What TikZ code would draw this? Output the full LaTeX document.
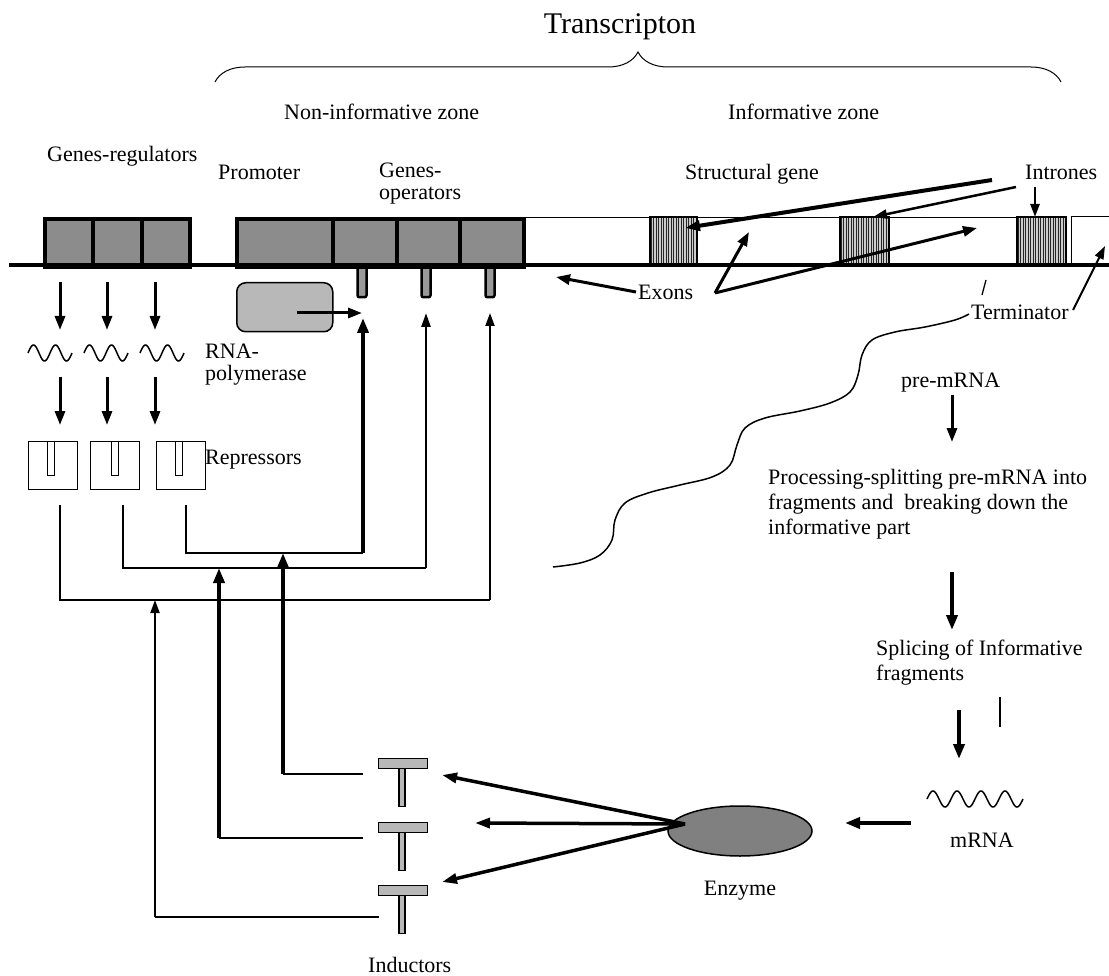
\documentclass[tikz,border=0pt]{standalone}
\usepackage{fontspec}
\setmainfont{Liberation Serif}
\usetikzlibrary{arrows.meta,decorations.pathreplacing,shapes.geometric}
\begin{document}
\begin{tikzpicture}[x=1pt,y=-1pt,
  lbl/.style={font=\fontsize{22}{26}\selectfont, inner sep=0pt, anchor=base west},
  genebox/.style={draw, line width=4pt, fill=black!45, inner sep=0pt, anchor=north west, minimum height=48pt},
  infobox/.style={draw, line width=1.2pt, fill=white, inner sep=0pt, anchor=north west, minimum height=48pt},
  peg/.style={draw, line width=2.5pt, fill=black!40, rounded corners=2pt, inner sep=0pt, anchor=north, minimum width=9pt, minimum height=34pt},
  repbox/.style={draw, line width=1.2pt, fill=white, inner sep=0pt, anchor=north west, minimum width=49pt, minimum height=48pt},
  slotbox/.style={draw, line width=1pt, fill=white, inner sep=0pt, anchor=north, minimum width=7pt, minimum height=34pt},
  tbar/.style={draw, line width=1.2pt, fill=black!28, inner sep=0pt, anchor=north west, minimum width=49pt, minimum height=10pt},
  tstem/.style={draw, line width=1.2pt, fill=black!28, inner sep=0pt, anchor=north, minimum width=6pt, minimum height=38pt},
  wire/.style={line width=1.5pt},
  arrA/.style={line width=3pt, -{Triangle[length=14pt,width=10pt]}},
  arrB/.style={line width=4pt, -{Triangle[length=15pt,width=11pt]}},
  arrC/.style={line width=2pt, -{Triangle[length=13pt,width=9pt]}},
  wave/.style={line width=1.5pt}
]
\useasboundingbox (0,0) rectangle (1109,976);

% ---------- title and brace
\node[lbl, font=\fontsize{30}{34}\selectfont, anchor=base] (title) at (620,34) {Transcripton};
\draw[decorate, decoration={brace, amplitude=30pt, aspect=0.5}, line width=1pt] (215,82) -- (1061,82);
\node[lbl] (nz) at (284,120) {Non-informative zone};
\node[lbl] (iz) at (728,120) {Informative zone};

% ---------- labels above the DNA
\node[lbl] (gr) at (47,162) {Genes-regulators};
\node[lbl] (pr) at (218,180) {Promoter};
\node[lbl] (go1) at (379,178) {Genes-};
\node[lbl] (go2) at (379,200) {operators};
\node[lbl] (sg) at (685,180) {Structural gene};
\node[lbl] (intr) at (1025,180) {Intrones};

% ---------- informative zone
\node[infobox, minimum width=544pt] (info) at (522,217) {};
\foreach \xa/\w/\nm in {650/47/in1, 840/49/in2, 1017/49/in3}{
  \node[infobox, minimum width=\w pt, fill=black!20] (\nm) at (\xa,217) {};
  \begin{scope}
    \clip (\xa,217) rectangle (\xa+\w,265);
    \foreach \s in {1.2,3.7,...,50}{\draw[line width=1.3pt, black!85] (\xa+\s,217) -- (\xa+\s,265);}
  \end{scope}
  \draw[line width=1.2pt] (\xa,217) rectangle (\xa+\w,265);
}
\node[infobox, minimum width=50pt] (term) at (1071,216) {};

% ---------- pegs of the operators
\node[peg] (p1) at (362,262) {};
\node[peg] (p2) at (426,262) {};
\node[peg] (p3) at (490,262) {};

% ---------- gene boxes
\node[genebox, minimum width=48pt] (r1) at (43,217) {};
\node[genebox, minimum width=49pt] (r2) at (91,217) {};
\node[genebox, minimum width=48pt] (r3) at (140,217) {};
\node[genebox, minimum width=96pt] (prom) at (235,217) {};
\node[genebox, minimum width=64pt] (o1) at (331,217) {};
\node[genebox, minimum width=63pt] (o2) at (395,217) {};
\node[genebox, minimum width=64pt] (o3) at (458,217) {};

% ---------- DNA
\coordinate (dnaL) at (9,265);
\coordinate (dnaR) at (1109,265);
\draw[line width=4pt] (dnaL) -- (dnaR);

% ---------- RNA polymerase
\node[draw, line width=1.5pt, fill=black!28, rounded corners=9pt, inner sep=0pt, anchor=north west, minimum width=96pt, minimum height=49pt] (rnap) at (236,282) {};
\node[lbl] (rnal1) at (205,359) {RNA-};
\node[lbl] (rnal2) at (205,381) {polymerase};

% ---------- regulators -> mRNA -> repressors
\foreach \i/\xx in {1/60,2/107,3/155}{
  \coordinate (ra\i) at (\xx,282);
  \coordinate (rb\i) at (\xx,330);
  \coordinate (rc\i) at (\xx,377);
  \coordinate (rd\i) at (\xx,425);
  \draw[arrA] (ra\i) -- (rb\i);
  \draw[arrA] (rc\i) -- (rd\i);
}
\foreach \xs in {28,84,140}{
  \draw[wave] plot[domain=0:44, samples=90, smooth] ({\xs+\x}, {353-8*sin(16.3636*\x)});
}
\node[repbox] (rep1) at (28,441) {};
\node[repbox] (rep2) at (90,441) {};
\node[repbox] (rep3) at (156,441) {};
\node[slotbox] (s1) at (51,441) {};
\node[slotbox] (s2) at (115,441) {};
\node[slotbox] (s3) at (179,441) {};
\node[lbl] (repl) at (205,464) {Repressors};

% ---------- repressor wires to operators
\coordinate (w1) at (60,505);
\coordinate (w2) at (123,505);
\coordinate (w3) at (186,505);
\coordinate (h1) at (490,600);
\coordinate (h2) at (426,568);
\coordinate (h3) at (363,553);
\draw[wire] (w1) |- (h1);
\draw[wire] (w2) |- (h2);
\draw[wire] (w3) |- (h3);
\coordinate (t1) at (490,313);
\coordinate (t2) at (426,313);
\coordinate (t3) at (363,318);
\draw[arrC] (h1) -- (t1);
\draw[line width=2.5pt, -{Triangle[length=14pt,width=9pt]}] (h2) -- (t2);
\draw[arrB] (h3) -- (t3);
\coordinate (rnapA) at (297,313);
\coordinate (rnapB) at (362,313);
\draw[arrA] (rnapA) -- (rnapB);

% ---------- inductors
\node[tbar] (ib1) at (378,758) {};
\node[tstem] (is1) at (402,768) {};
\node[tbar] (ib2) at (378,822) {};
\node[tstem] (is2) at (402,832) {};
\node[tbar] (ib3) at (378,885) {};
\node[tstem] (is3) at (402,895) {};
\node[lbl] (indl) at (368,972) {Inductors};

\coordinate (i1a) at (363,774);
\coordinate (i1b) at (283,774);
\coordinate (i1c) at (283,553);
\coordinate (i2a) at (363,838);
\coordinate (i2b) at (219,838);
\coordinate (i2c) at (219,568);
\coordinate (i3a) at (379,917);
\coordinate (i3b) at (155,917);
\coordinate (i3c) at (155,600);
\draw[wire] (i1a) -- (i1b);
\draw[wire] (i2a) -- (i2b);
\draw[wire] (i3a) -- (i3b);
\draw[arrB] (i1b) -- (i1c);
\draw[arrB] (i2b) -- (i2c);
\draw[arrC] (i3b) -- (i3c);

% ---------- enzyme
\node[draw, ellipse, line width=1.5pt, fill=black!50, inner sep=0pt, minimum width=144pt, minimum height=50pt] (enz) at (740,831) {};
\node[lbl, anchor=base] (enzl) at (740,895) {Enzyme};
\coordinate (ez) at (685,824);
\coordinate (e1) at (442,775);
\coordinate (e2) at (475,823);
\coordinate (e3) at (442,882);
\draw[line width=3.5pt, -{Triangle[length=15pt,width=10pt]}] (ez) -- (e1);
\draw[line width=3.5pt, -{Triangle[length=15pt,width=10pt]}] (ez) -- (e2);
\draw[line width=3.5pt, -{Triangle[length=15pt,width=10pt]}] (ez) -- (e3);

% ---------- right column
\node[lbl] (prem) at (901,388) {pre-mRNA};
\coordinate (a1) at (952,395);
\coordinate (a2) at (952,442);
\draw[arrA] (a1) -- (a2);
\node[lbl] (pc1) at (768,484) {Processing-splitting pre-mRNA into};
\node[lbl] (pc2) at (768,509) {fragments and\hspace{0.25em} breaking down the};
\node[lbl] (pc3) at (768,534) {informative part};
\coordinate (a3) at (952,572);
\coordinate (a4) at (952,630);
\draw[arrB] (a3) -- (a4);
\node[lbl] (sp1) at (876,655) {Splicing of Informative};
\node[lbl] (sp2) at (876,680) {fragments};
\coordinate (tk1) at (1000,697);
\coordinate (tk2) at (1000,727);
\draw[wire] (tk1) -- (tk2);
\coordinate (a5) at (959,710);
\coordinate (a6) at (959,759);
\draw[arrB] (a5) -- (a6);
\draw[wave] plot[domain=0:96, samples=160, smooth] ({927+\x}, {799-8*sin(15*\x)});
\node[lbl] (mrl) at (950,847) {mRNA};
\coordinate (a7) at (911,823);
\coordinate (a8) at (845,823);
\draw[arrB] (a7) -- (a8);

% ---------- exons, introns, terminator arrows
\node[lbl] (exl) at (638,300) {Exons};
\coordinate (ex0) at (636,292);
\coordinate (ex1) at (715,293);
\coordinate (ex1t) at (556,277);
\coordinate (ex2t) at (749,232);
\coordinate (ex3t) at (977,228);
\draw[arrA] (ex0) -- (ex1t);
\draw[arrA] (ex1) -- (ex2t);
\draw[arrA] (ex1) -- (ex3t);
\coordinate (ia) at (992,180);
\coordinate (ib) at (1016,187);
\coordinate (ic) at (1035,187);
\coordinate (in1t) at (685,228);
\draw[line width=4pt, -{Triangle[length=15pt,width=10pt]}] (ia) -- (in1t);
\coordinate (in2t) at (873,217);
\coordinate (in3t) at (1035,217);
\draw[line width=2.5pt, -{Triangle[length=14pt,width=9pt]}] (ib) -- (in2t);
\draw[line width=2.5pt, -{Triangle[length=13pt,width=9pt]}] (ic) -- (in3t);
\node[lbl] (terml) at (971,320) {Terminator};
\coordinate (tm1) at (1073,310);
\coordinate (tm2) at (1105,246);
\draw[arrC] (tm1) -- (tm2);
\coordinate (tick1) at (986,280);
\coordinate (tick2) at (982,295);
\draw[line width=1.3pt] (tick1) -- (tick2);

% ---------- pre-mRNA strand
\draw[line width=1.5pt] plot[smooth, tension=0.6] coordinates{(553,567) (580,563) (600,555) (612,540) (615,520) (625,503) (648,493) (680,485) (712,477) (730,465) (737,445) (745,428) (765,418) (800,411) (830,403) (850,392) (858,375) (862,355) (872,340) (895,332) (925,327) (955,320) (969,314)};
\end{tikzpicture}
\end{document}
